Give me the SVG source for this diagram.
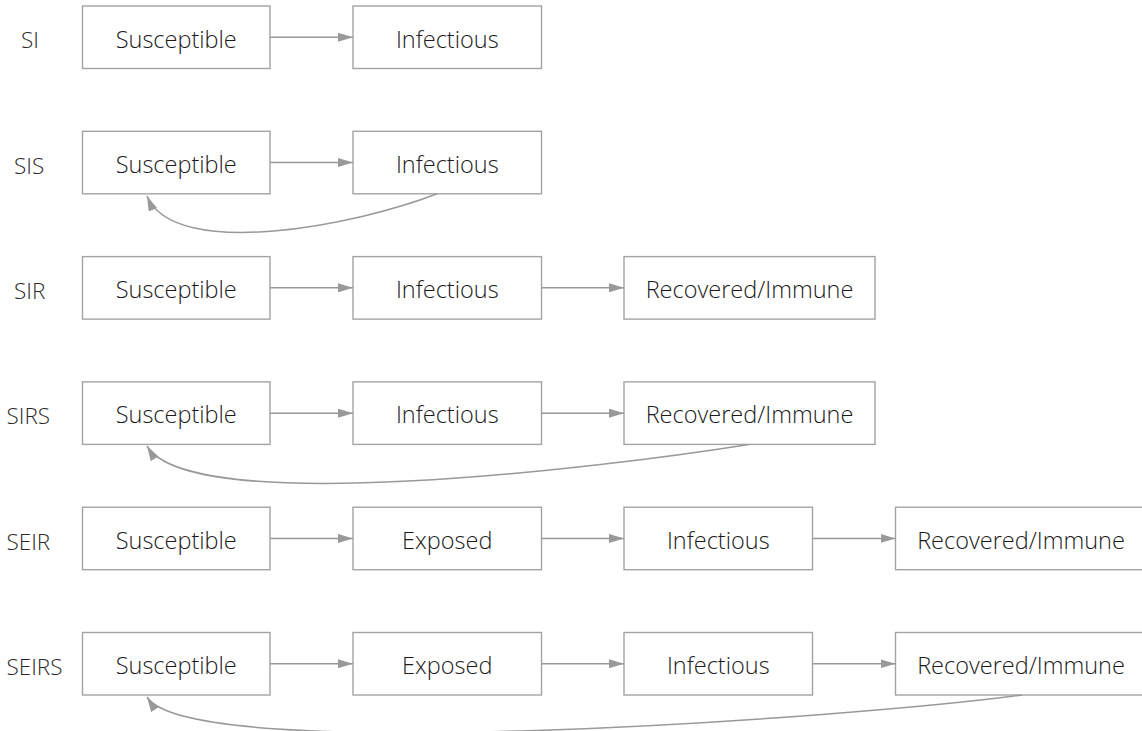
<svg xmlns="http://www.w3.org/2000/svg" width="1142" height="731" viewBox="0 0 1142 731">
  <style>
    .box { fill: #ffffff; stroke: #a3a3a3; stroke-width: 1.4; }
    .lbl { font-family: "Open Sans", "Noto Sans", sans-serif; font-size: 23.5px; font-weight: 350; fill: #1a1a1a; text-anchor: middle; }
    .model { font-family: "Open Sans", "Noto Sans", sans-serif; font-size: 22.5px; font-weight: 350; fill: #2a2a2a; }
    .edge { fill: none; stroke: #999999; stroke-width: 1.5; }
  </style>
  <defs>
    <marker id="arrow" viewBox="0 0 15 9" refX="15" refY="4.5" markerWidth="15" markerHeight="9" markerUnits="userSpaceOnUse" orient="auto">
      <path d="M0,0 L15,4.5 L0,9 Z" fill="#999999"/>
    </marker>
  </defs>

  <rect width="1142" height="731" fill="#ffffff"/>

  <!-- model names -->
  <g id="model-names">
    <text class="model" x="21" y="48">SI</text>
    <text class="model" x="14" y="173.5">SIS</text>
    <text class="model" x="14" y="299">SIR</text>
    <text class="model" x="6.5" y="424">SIRS</text>
    <text class="model" x="6.5" y="549.5">SEIR</text>
    <text class="model" x="6.5" y="675">SEIRS</text>
  </g>

  <!-- SI -->
  <g id="si-s"><rect class="box" x="82.5" y="6" width="187.5" height="62.5"/><text class="lbl" x="176.25" y="47.5">Susceptible</text></g>
  <g id="si-i"><rect class="box" x="353" y="6" width="188.5" height="62.5"/><text class="lbl" x="447.25" y="47.5">Infectious</text></g>

  <!-- SIS -->
  <g id="sis-s"><rect class="box" x="82.5" y="131.3" width="187.5" height="62.5"/><text class="lbl" x="176.25" y="172.8">Susceptible</text></g>
  <g id="sis-i"><rect class="box" x="353" y="131.3" width="188.5" height="62.5"/><text class="lbl" x="447.25" y="172.8">Infectious</text></g>

  <!-- SIR -->
  <g id="sir-s"><rect class="box" x="82.5" y="256.6" width="187.5" height="62.5"/><text class="lbl" x="176.25" y="298.1">Susceptible</text></g>
  <g id="sir-i"><rect class="box" x="353" y="256.6" width="188.5" height="62.5"/><text class="lbl" x="447.25" y="298.1">Infectious</text></g>
  <g id="sir-r"><rect class="box" x="624" y="256.6" width="251" height="62.5"/><text class="lbl" x="749.5" y="298.1">Recovered/Immune</text></g>

  <!-- SIRS -->
  <g id="sirs-s"><rect class="box" x="82.5" y="381.9" width="187.5" height="62.5"/><text class="lbl" x="176.25" y="423.4">Susceptible</text></g>
  <g id="sirs-i"><rect class="box" x="353" y="381.9" width="188.5" height="62.5"/><text class="lbl" x="447.25" y="423.4">Infectious</text></g>
  <g id="sirs-r"><rect class="box" x="624" y="381.9" width="251" height="62.5"/><text class="lbl" x="749.5" y="423.4">Recovered/Immune</text></g>

  <!-- SEIR -->
  <g id="seir-s"><rect class="box" x="82.5" y="507.2" width="187.5" height="62.5"/><text class="lbl" x="176.25" y="548.7">Susceptible</text></g>
  <g id="seir-e"><rect class="box" x="353" y="507.2" width="188.5" height="62.5"/><text class="lbl" x="447.25" y="548.7">Exposed</text></g>
  <g id="seir-i"><rect class="box" x="624" y="507.2" width="188.5" height="62.5"/><text class="lbl" x="718.25" y="548.7">Infectious</text></g>
  <g id="seir-r"><rect class="box" x="895.5" y="507.2" width="251" height="62.5"/><text class="lbl" x="1021" y="548.7">Recovered/Immune</text></g>

  <!-- SEIRS -->
  <g id="seirs-s"><rect class="box" x="82.5" y="632.5" width="187.5" height="62.5"/><text class="lbl" x="176.25" y="674">Susceptible</text></g>
  <g id="seirs-e"><rect class="box" x="353" y="632.5" width="188.5" height="62.5"/><text class="lbl" x="447.25" y="674">Exposed</text></g>
  <g id="seirs-i"><rect class="box" x="624" y="632.5" width="188.5" height="62.5"/><text class="lbl" x="718.25" y="674">Infectious</text></g>
  <g id="seirs-r"><rect class="box" x="895.5" y="632.5" width="251" height="62.5"/><text class="lbl" x="1021" y="674">Recovered/Immune</text></g>

  <!-- transitions -->
  <g id="connectors">
    <path class="edge" marker-end="url(#arrow)" d="M270,37.25 H353"/>

    <path class="edge" marker-end="url(#arrow)" d="M270,162.55 H353"/>
    <path class="edge" marker-end="url(#arrow)" d="M437,193.8 C360,224 175,262 147,196"/>

    <path class="edge" marker-end="url(#arrow)" d="M270,287.85 H353"/>
    <path class="edge" marker-end="url(#arrow)" d="M541.5,287.85 H624"/>

    <path class="edge" marker-end="url(#arrow)" d="M270,413.15 H353"/>
    <path class="edge" marker-end="url(#arrow)" d="M541.5,413.15 H624"/>
    <path class="edge" marker-end="url(#arrow)" d="M749,444.4 C600,468 190,518 147,446"/>

    <path class="edge" marker-end="url(#arrow)" d="M270,538.45 H353"/>
    <path class="edge" marker-end="url(#arrow)" d="M541.5,538.45 H624"/>
    <path class="edge" marker-end="url(#arrow)" d="M812.5,538.45 H895.5"/>

    <path class="edge" marker-end="url(#arrow)" d="M270,663.75 H353"/>
    <path class="edge" marker-end="url(#arrow)" d="M541.5,663.75 H624"/>
    <path class="edge" marker-end="url(#arrow)" d="M812.5,663.75 H895.5"/>
    <path class="edge" marker-end="url(#arrow)" d="M1022,695 C850,718 190,766 147,697"/>
  </g>
</svg>
